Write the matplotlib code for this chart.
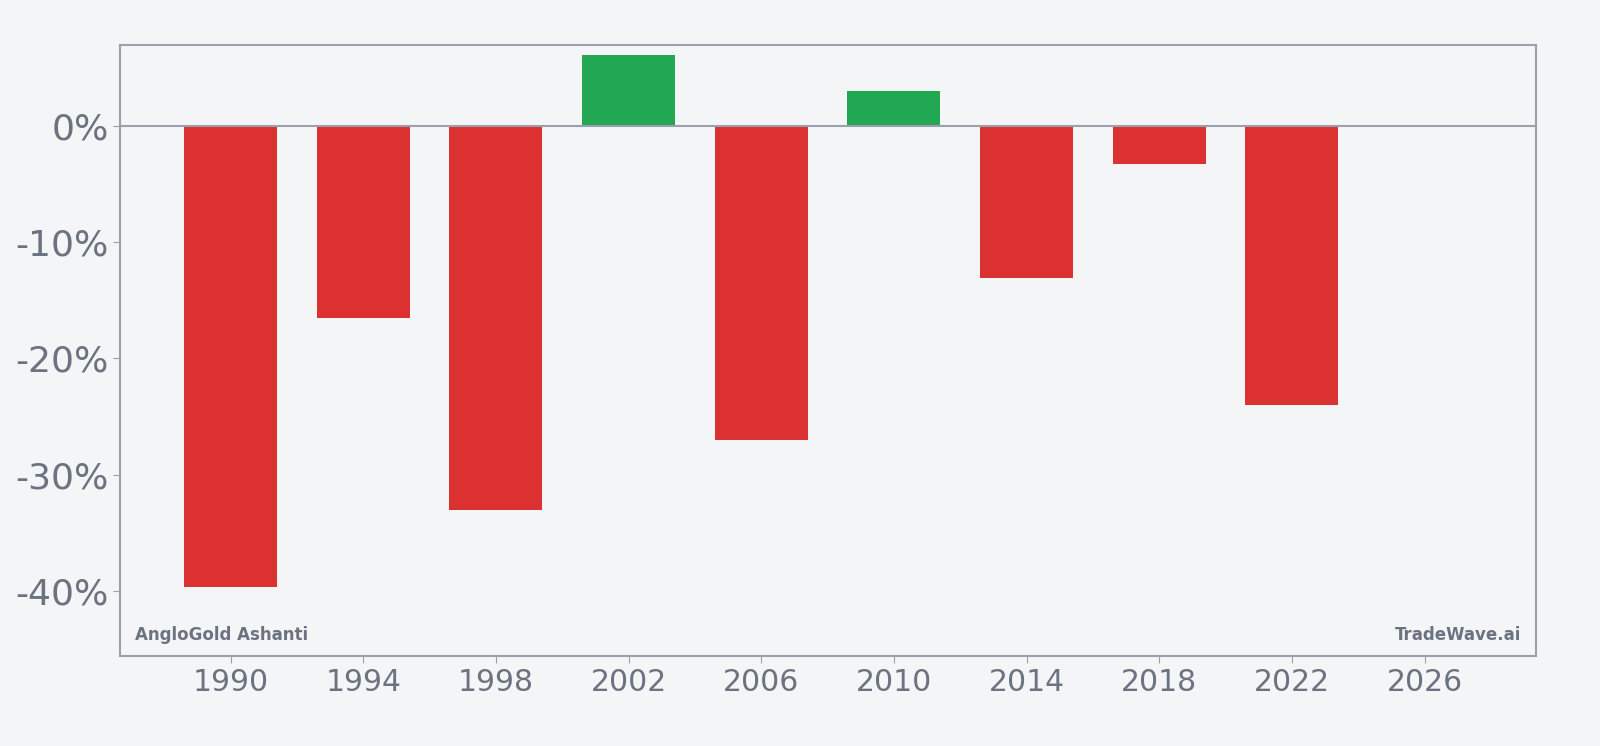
import matplotlib.pyplot as plt
import matplotlib.ticker as mticker

years = [1990, 1994, 1998, 2002, 2006, 2010, 2014, 2018, 2022]
returns = [-39.7, -16.5, -33.0, 6.1, -27.0, 3.0, -13.1, -3.3, -24.0]

bg = '#f4f5f7'
text_color = '#6b7280'
spine_color = '#9ca0ab'
colors = ['#22a852' if r >= 0 else '#dc3131' for r in returns]

fig = plt.figure(figsize=(16, 7.46), dpi=100, facecolor=bg)
ax = fig.add_axes([0.0753, 0.1205, 0.8845, 0.8193])
ax.set_facecolor(bg)

ax.bar(years, returns, width=2.8, color=colors, zorder=2)
ax.axhline(0, color=spine_color, linewidth=1.5, zorder=3)

ax.set_xlim(1986.68, 2029.35)
ax.set_ylim(-45.6, 6.95)
ax.set_xticks(range(1990, 2027, 4))
ax.set_yticks([0, -10, -20, -30, -40])
ax.yaxis.set_major_formatter(mticker.FuncFormatter(lambda v, p: f'{v:.0f}%'))

for s in ax.spines.values():
    s.set_color(spine_color)
    s.set_linewidth(1.5)
ax.tick_params(colors=spine_color, labelcolor=text_color, length=5)
ax.tick_params(axis='x', labelsize=21.5)
ax.tick_params(axis='y', labelsize=26)

ax.text(0.01, 0.02, 'AngloGold Ashanti', transform=ax.transAxes,
        fontsize=12, fontweight='bold', color=text_color, ha='left', va='bottom')
ax.text(0.99, 0.02, 'TradeWave.ai', transform=ax.transAxes,
        fontsize=12, fontweight='bold', color=text_color, ha='right', va='bottom')

plt.savefig('out.png', dpi=100, facecolor=bg)
plt.close()
